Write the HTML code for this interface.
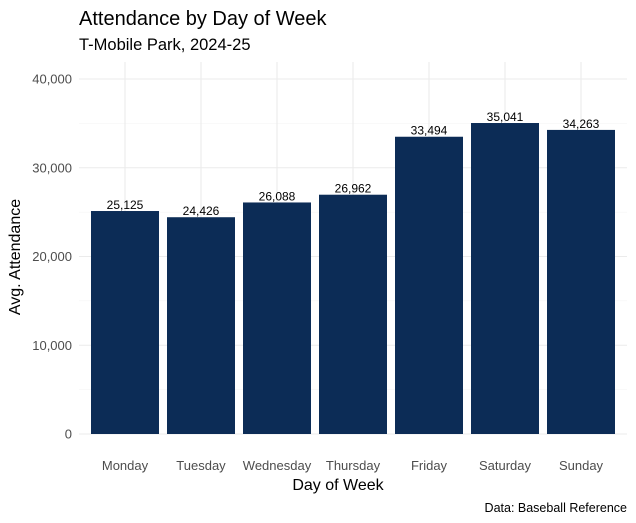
<!DOCTYPE html>
<html><head><meta charset="utf-8"><style>
body{margin:0;background:#fff;}
svg{display:block;font-family:"Liberation Sans",Arial,sans-serif;}
</style></head><body>
<svg id="chart" width="636" height="523">
<text x="79" y="25" font-size="20" fill="#000">Attendance by Day of Week</text>
<text x="79" y="50" font-size="16.5" fill="#000">T-Mobile Park, 2024-25</text>
<g id="grid"></g><g id="bars"></g><g id="labels"></g><g id="axes"></g>
<text x="338" y="490" font-size="16" text-anchor="middle" fill="#000">Day of Week</text>
<text transform="translate(20,257) rotate(-90)" font-size="16" text-anchor="middle" fill="#000">Avg. Attendance</text>
<text x="627" y="512" font-size="12.5" text-anchor="end" fill="#000">Data: Baseball Reference</text>
</svg>
<script>
const categories=["Monday","Tuesday","Wednesday","Thursday","Friday","Saturday","Sunday"];
const values=[25125,24426,26088,26962,33494,35041,34263];
const yTicks=[0,10000,20000,30000,40000];
const NS="http://www.w3.org/2000/svg";
const x0=125,step=76,bw=68;
const y=v=>434-v*355/40000;
const x=i=>x0+i*step;
function mk(t,a,p){const e=document.createElementNS(NS,t);for(const k in a)e.setAttribute(k,a[k]);p.appendChild(e);return e;}
const g=document.getElementById('grid'),b=document.getElementById('bars'),l=document.getElementById('labels'),ax=document.getElementById('axes');
yTicks.forEach((t,i)=>{
 const ln=mk('line',{x1:79,x2:627,y1:y(t),y2:y(t),stroke:'#ebebeb','stroke-width':1.1},g);
 
 
 if(i<yTicks.length-1){const m=mk('line',{x1:79,x2:627,y1:y(t+5000),y2:y(t+5000),stroke:'#f3f3f3','stroke-width':0.6},g);
 
 }
 const tx=mk('text',{x:72,y:y(t)+4.5,'font-size':13,'text-anchor':'end',fill:'#4d4d4d'},ax);
 tx.textContent=t.toLocaleString('en-US');
 
 
});
categories.forEach((c,i)=>{
 const v=mk('line',{x1:x(i),x2:x(i),y1:62,y2:434,stroke:'#ebebeb','stroke-width':1.1},g);
 
 
 const r=mk('rect',{x:x(i)-bw/2,y:y(values[i]),width:bw,height:434-y(values[i]),fill:'#0C2C56'},b);
 
 
 const t=mk('text',{x:x(i),y:y(values[i])-2,'font-size':12,'text-anchor':'middle',fill:'#000'},l);
 t.textContent=values[i].toLocaleString('en-US');
 
 
 const xt=mk('text',{x:x(i),y:470,'font-size':13,'text-anchor':'middle',fill:'#4d4d4d'},ax);
 xt.textContent=c;
 
 
});
</script>
</body></html>
